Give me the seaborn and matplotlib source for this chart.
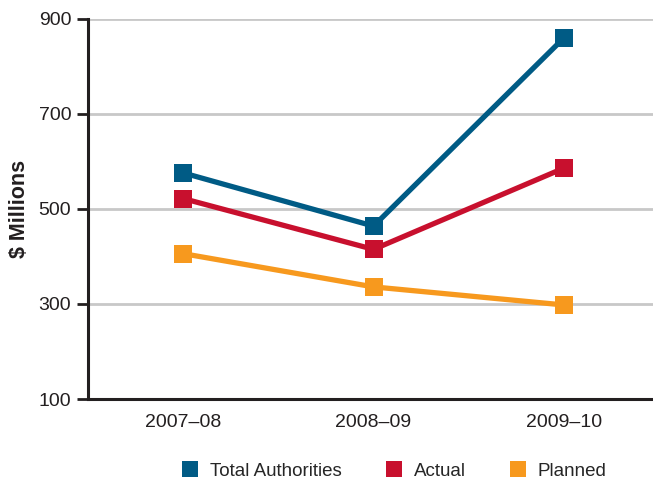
import matplotlib
matplotlib.use("Agg")
import matplotlib.pyplot as plt
from matplotlib.lines import Line2D
import seaborn as sns
import pandas as pd

years = ["2007–08", "2008–09", "2009–10"]
total_authorities = [576, 464, 860]
actual = [522, 415, 586]
planned = [406, 336, 298]
series_names = ["Total Authorities", "Actual", "Planned"]
colors = ["#005b85", "#c8102e", "#f7991e"]
y_ticks = [100, 300, 500, 700, 900]

df = pd.DataFrame({
    "year": years * 3,
    "value": total_authorities + actual + planned,
    "series": [s for s in series_names for _ in years],
})
palette = dict(zip(series_names, colors))

sns.set_theme(style="white")
plt.rcParams["font.family"] = ["Liberation Sans", "DejaVu Sans"]

fig = plt.figure(figsize=(6.53, 4.84), dpi=100)
ax = fig.add_axes([88 / 653, 85 / 484, 571 / 653, 380 / 484])

sns.lineplot(data=df, x="year", y="value", hue="series", palette=palette,
             marker="s", markersize=12.5, markeredgewidth=0, linewidth=3.8,
             sort=False, legend=False, ax=ax, zorder=3)

ax.set_xlim(-0.5, 2.5)
ax.set_ylim(100, 900)
ax.set_yticks(y_ticks)
ax.set_yticklabels([str(v) for v in y_ticks], fontsize=14, color="#231f20")
ax.set_xticks(range(len(years)))
ax.set_xticklabels(years, fontsize=14, color="#231f20")
ax.set_xticks([0.5, 1.5], minor=True)
ax.tick_params(axis="x", which="major", length=0, pad=11)
ax.tick_params(axis="x", which="minor", direction="out", length=6, width=2, color="#231f20")
ax.tick_params(axis="y", direction="out", length=8, width=2, color="#231f20", pad=4, left=True)

for y in y_ticks[1:]:
    ax.axhline(y, color="#c8c8c8", linewidth=2, zorder=1)

for side in ["top", "right"]:
    ax.spines[side].set_visible(False)
for side in ["left", "bottom"]:
    ax.spines[side].set_color("#231f20")
    ax.spines[side].set_linewidth(2.2)

ax.set_xlabel("")
ax.set_ylabel("$ Millions", fontsize=15.5, fontweight="bold", color="#231f20", labelpad=6)

handles = [Line2D([], [], linestyle="none", marker="s", markersize=12,
                  markerfacecolor=c, markeredgewidth=0) for c in colors]
fig.legend(handles, series_names, loc="center", bbox_to_anchor=(0.603, 0.026),
           ncol=3, frameon=False, fontsize=13.5, handletextpad=0.55,
           columnspacing=2.3, handlelength=1.0)

fig.savefig("out.png", dpi=100)
